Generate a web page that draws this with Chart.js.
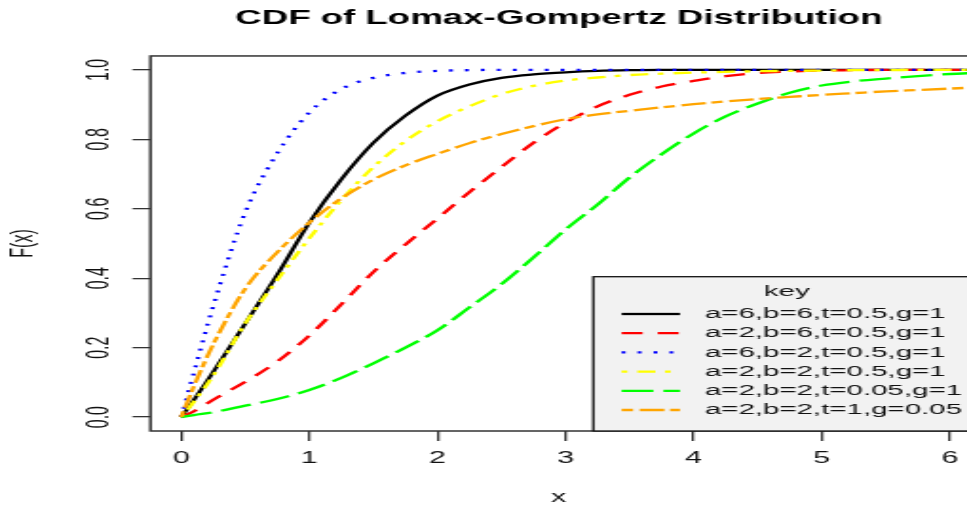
<!DOCTYPE html>
<html>
<head>
<meta charset="utf-8">
<script src="https://cdn.jsdelivr.net/npm/chart.js@4.4.1/dist/chart.umd.min.js"></script>
<style>
  html, body { margin: 0; padding: 0; background: #fff; overflow: hidden; }
  #wrap { width: 967px; height: 507px; overflow: hidden; }
  /* the reference picture is stretched sideways, so draw narrow and widen */
  #plot { display: block; transform: scaleX(1.9); transform-origin: 0 0; }
</style>
</head>
<body>
<div id="wrap"><canvas id="plot" width="509" height="507"></canvas></div>
<script>
// values
const xValues = [0, 0.1, 0.25, 0.5, 0.75, 1, 1.25, 1.5, 1.75, 2, 2.25, 2.5, 2.75, 3, 3.25, 3.5, 3.75, 4, 4.25, 4.5, 4.75, 5, 5.25, 5.5, 5.75, 6, 6.25];

const seriesLabels = [
  'a=6,b=6,t=0.5,g=1',
  'a=2,b=6,t=0.5,g=1',
  'a=6,b=2,t=0.5,g=1',
  'a=2,b=2,t=0.5,g=1',
  'a=2,b=2,t=0.05,g=1',
  'a=2,b=2,t=1,g=0.05'
];

const cdfA6B6 = [0, 0.05, 0.13, 0.27, 0.41, 0.56, 0.685, 0.79, 0.868, 0.926, 0.958, 0.977, 0.987, 0.993, 0.997, 0.999, 1, 1, 1, 1, 1, 1, 1, 1, 1, 1, 1];
const cdfA2B6 = [0, 0.017, 0.05, 0.102, 0.16, 0.235, 0.325, 0.418, 0.497, 0.572, 0.648, 0.72, 0.79, 0.848, 0.895, 0.928, 0.952, 0.968, 0.982, 0.991, 0.995, 0.998, 0.999, 1, 1, 1, 1];
const cdfA6B2 = [0, 0.13, 0.32, 0.59, 0.76, 0.877, 0.945, 0.977, 0.991, 0.997, 0.999, 1, 1, 1, 1, 1, 1, 1, 1, 1, 1, 1, 1, 1, 1, 1, 1];
const cdfA2B2 = [0, 0.045, 0.12, 0.27, 0.395, 0.515, 0.625, 0.72, 0.795, 0.852, 0.895, 0.93, 0.954, 0.969, 0.978, 0.985, 0.989, 0.992, 0.994, 0.996, 0.997, 0.998, 0.999, 0.999, 1, 1, 1];
const cdfA2B2t005 = [0, 0.006, 0.014, 0.033, 0.052, 0.078, 0.113, 0.155, 0.2, 0.25, 0.316, 0.383, 0.46, 0.54, 0.612, 0.69, 0.757, 0.817, 0.866, 0.903, 0.934, 0.955, 0.967, 0.975, 0.982, 0.988, 0.992];
const cdfA2B2g005 = [0, 0.09, 0.21, 0.37, 0.475, 0.56, 0.63, 0.684, 0.725, 0.758, 0.789, 0.815, 0.838, 0.858, 0.872, 0.882, 0.892, 0.901, 0.909, 0.916, 0.922, 0.928, 0.933, 0.938, 0.942, 0.946, 0.95];

const xTicks = [0, 1, 2, 3, 4, 5, 6];
const yTicks = [0, 0.2, 0.4, 0.6, 0.8, 1.0];

const seriesValues = [cdfA6B6, cdfA2B6, cdfA6B2, cdfA2B2, cdfA2B2t005, cdfA2B2g005];

const fontFamily = '"Liberation Sans", Arial, sans-serif';

// R style lty 1..6
const lineStyles = [
  { color: '#000000', dash: [] },
  { color: '#ff0000', dash: [11, 8] },
  { color: '#0000ff', dash: [2, 6.4] },
  { color: '#ffff00', dash: [3, 5.3, 9.5, 5] },
  { color: '#00ff00', dash: [16.7, 5.3] },
  { color: '#ffa500', dash: [6, 3.5, 13, 3] }
];

const datasets = seriesValues.map((vals, i) => ({
  label: seriesLabels[i],
  data: vals.map((y, j) => ({ x: xValues[j], y: y })),
  borderColor: lineStyles[i].color,
  borderDash: lineStyles[i].dash,
  borderWidth: 2.3,
  pointRadius: 0,
  fill: false,
  cubicInterpolationMode: 'monotone',
  order: seriesValues.length - i   // later series drawn on top, like R
}));

// box round the plot and the "key" legend in the bottom right corner
const framePlugin = {
  id: 'frame',
  afterDatasetsDraw(chart) {
    const ctx = chart.ctx;
    const area = chart.chartArea;
    const right = chart.scales.x.getPixelForValue(6.24);

    ctx.save();
    ctx.strokeStyle = '#333';
    ctx.lineWidth = 1.5;
    ctx.strokeRect(area.left, area.top, right - area.left, area.bottom - area.top);

    const boxW = 203.8, boxH = 154.3;
    const bx = right - boxW, by = area.bottom - boxH;
    ctx.fillStyle = '#f2f2f2';
    ctx.fillRect(bx, by, boxW, boxH);
    ctx.strokeStyle = '#111';
    ctx.lineWidth = 1.3;
    ctx.strokeRect(bx, by, boxW, boxH);

    ctx.font = '15.5px ' + fontFamily;
    ctx.textBaseline = 'middle';
    ctx.fillStyle = '#111';
    ctx.textAlign = 'center';
    ctx.fillText('key', bx + boxW / 2, by + 15);

    ctx.textAlign = 'left';
    chart.data.datasets.forEach((ds, i) => {
      const y = by + 37.3 + i * 19.2;
      ctx.beginPath();
      ctx.setLineDash(ds.borderDash);
      ctx.strokeStyle = ds.borderColor;
      ctx.lineWidth = ds.borderWidth;
      ctx.moveTo(bx + 14.9, y);
      ctx.lineTo(bx + 45.6, y);
      ctx.stroke();
      ctx.setLineDash([]);
      ctx.fillText(ds.label, bx + 58.7, y);
    });
    ctx.restore();
  }
};

const ctx = document.getElementById('plot').getContext('2d');
new Chart(ctx, {
  type: 'line',
  data: { datasets: datasets },
  plugins: [framePlugin],
  options: {
    responsive: false,
    animation: false,
    layout: { padding: 0 },
    plugins: {
      legend: { display: false },
      tooltip: { enabled: false },
      title: {
        display: true,
        text: 'CDF of Lomax-Gompertz Distribution',
        fullSize: false,
        color: '#000',
        font: { family: fontFamily, size: 19.3, weight: 'bold', lineHeight: 1.2 },
        padding: { top: 6.7, bottom: 26.1 }
      }
    },
    scales: {
      x: {
        type: 'linear',
        min: -0.24,
        max: 6.135,
        afterBuildTicks: s => { s.ticks = xTicks.map(v => ({ value: v })); },
        afterFit: s => { s.height = 76; s.paddingLeft = 0; s.paddingRight = 0; },
        grid: { drawOnChartArea: false, drawTicks: true, tickLength: 10, color: '#333', lineWidth: 1.3 },
        border: { display: false },
        ticks: {
          color: '#111',
          font: { family: fontFamily, size: 16 },
          padding: 8,
          maxRotation: 0,
          autoSkip: false,
          callback: v => String(v)
        },
        title: {
          display: true,
          text: 'x',
          color: '#111',
          font: { family: fontFamily, size: 16 },
          padding: { top: 0, bottom: 0 }
        }
      },
      y: {
        type: 'linear',
        min: -0.04,
        max: 1.04,
        afterBuildTicks: s => { s.ticks = yTicks.map(v => ({ value: v })); },
        afterFit: s => { s.width = 79.2; s.paddingTop = 0; s.paddingBottom = 0; },
        grid: { drawOnChartArea: false, drawTicks: true, tickLength: 9.5, color: '#333', lineWidth: 1.3 },
        border: { display: false },
        ticks: {
          color: '#111',
          font: { family: fontFamily, size: 16 },
          padding: 5.8,
          minRotation: 90,
          maxRotation: 90,
          crossAlign: 'center',
          autoSkip: false,
          callback: v => v.toFixed(1)
        },
        title: {
          display: true,
          text: 'F(x)',
          color: '#111',
          font: { family: fontFamily, size: 16 },
          padding: { top: 3.3, bottom: 0 }
        }
      }
    }
  }
});
</script>
</body>
</html>
